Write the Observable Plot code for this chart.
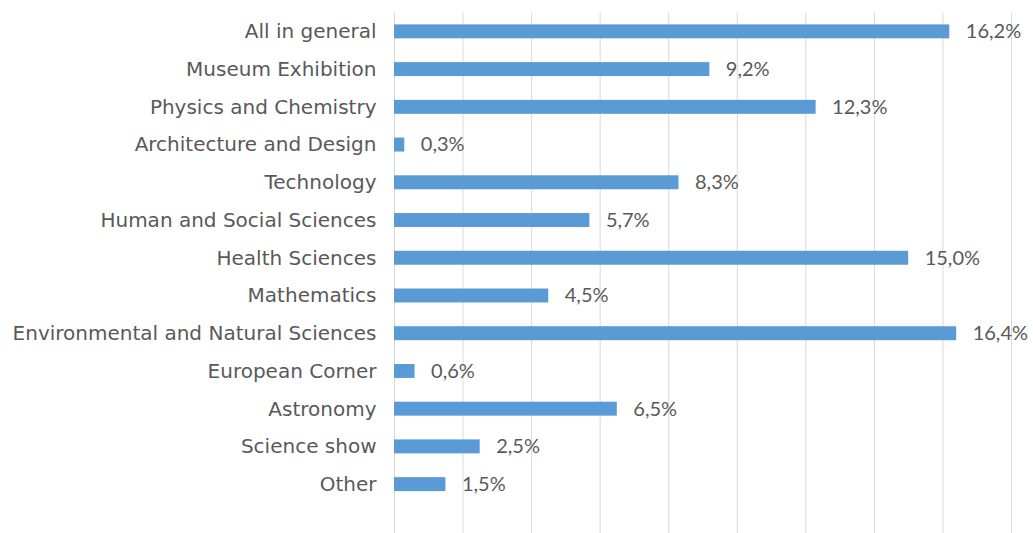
<!DOCTYPE html>
<html>
<head>
<meta charset="utf-8">
<script src="https://cdn.jsdelivr.net/npm/d3@7"></script>
<script src="https://cdn.jsdelivr.net/npm/@observablehq/plot@0.6"></script>
<style>
  html, body { margin: 0; padding: 0; background: #fff; }
  #chart svg { display: block; }
</style>
</head>
<body>
<div id="chart"></div>
<script>
const categories = [
  "All in general",
  "Museum Exhibition",
  "Physics and Chemistry",
  "Architecture and Design",
  "Technology",
  "Human and Social Sciences",
  "Health Sciences",
  "Mathematics",
  "Environmental and Natural Sciences",
  "European Corner",
  "Astronomy",
  "Science show",
  "Other"
];
const values = [16.2, 9.2, 12.3, 0.3, 8.3, 5.7, 15.0, 4.5, 16.4, 0.6, 6.5, 2.5, 1.5];
const xTicks = [0, 2, 4, 6, 8, 10, 12, 14, 16, 18];

const data = categories.map((c, i) => ({category: c, value: values[i]}));
const fmt = v => v.toFixed(1).replace(".", ",") + "%";

const chart = Plot.plot({
  width: 1033,
  height: 533,
  marginLeft: 394,
  marginRight: 22,
  marginTop: 12.5,
  marginBottom: 0,
  style: {fontFamily: "'DejaVu Sans', sans-serif", fontSize: "20px", color: "#595959", background: "#fff"},
  x: {domain: [0, 18], axis: null},
  y: {domain: categories, paddingInner: 0.63, paddingOuter: 0.315, insetBottom: 30, round: false, label: null},
  marks: [
    Plot.gridX(xTicks, {stroke: "#d9d9d9", strokeOpacity: 1, strokeWidth: 1}),
    Plot.barX(data, {x: "value", y: "category", fill: "#5b9bd5"}),
    Plot.text(data, {x: "value", y: "category", text: d => fmt(d.value), textAnchor: "start", dx: 16, fill: "#595959", fontSize: 20, fontFamily: "Lato, sans-serif"}),
    Plot.axisY({tickSize: 0, tickPadding: 18, fontSize: 20, fill: "#595959", label: null})
  ]
});
document.getElementById("chart").appendChild(chart);
</script>
</body>
</html>
